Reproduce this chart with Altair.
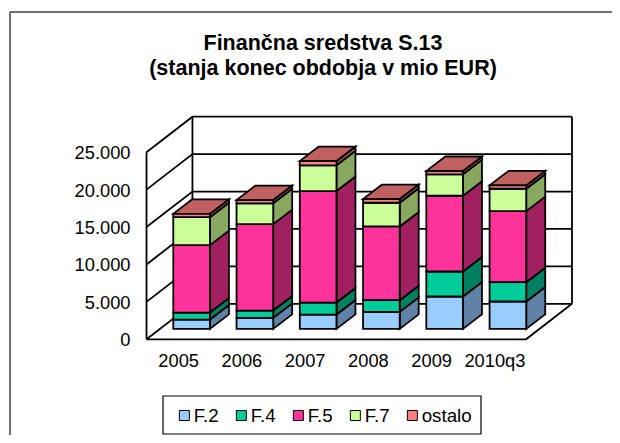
import json
import altair as alt

years = ["2005", "2006", "2007", "2008", "2009", "2010q3"]
series = ["F.2", "F.4", "F.5", "F.7", "ostalo"]
f2 = [1250, 1470, 1920, 2275, 4330, 3660]
f4 = [930, 980, 1600, 1560, 3340, 2580]
f5 = [9010, 11550, 14900, 9855, 10125, 9500]
f7 = [3740, 2770, 3430, 3170, 2855, 2990]
ostalo = [450, 445, 580, 490, 450, 450]
front_colors = ["#99CCFF", "#00CC99", "#FF3399", "#CCFF99", "#FF8080"]
side_colors = ["#6082A6", "#008060", "#A02060", "#88A860", "#A05050"]
top_color = "#C06060"
tick_values = [0, 5000, 10000, 15000, 20000, 25000]
title_lines = ["Finančna sredstva S.13", "(stanja konec obdobja v mio EUR)"]

FONT = "Liberation Sans"
PX_X = 63.33
PX_Y = 37.4 / 5000
WALL_DX = 46 / PX_X
WALL_DY = 35.5 / PX_Y
OFF_DX = 13.5 / PX_X
OFF_DY = 10.4 / PX_Y
BAR_HALF = 18.35 / PX_X
BAR_DX = 19 / PX_X
BAR_DY = 14.5 / PX_Y
XMAX = len(years) + WALL_DX
YMAX = 25000 + WALL_DY
LINE = 1.8

XS = alt.Scale(domain=[0, XMAX], nice=False, zero=False)
YS = alt.Scale(domain=[0, YMAX], nice=False, zero=False)

x_axis = alt.Axis(
    values=[i + 0.5 for i in range(len(years))],
    labelExpr=f"{json.dumps(years)}[floor(datum.value)]",
    domain=False, ticks=False, grid=False,
    labelFont=FONT, labelFontSize=18.3, labelColor="black",
    labelPadding=13.5, labelAngle=0,
)
y_axis = alt.Axis(
    values=tick_values,
    labelExpr="replace(format(datum.value, ','), ',', '.')",
    domain=False, ticks=False, grid=False,
    labelFont=FONT, labelFontSize=18.3, labelColor="black",
    labelPadding=16.5, labelOffset=1.5,
)


def X(field="x", **kw):
    return alt.X(f"{field}:Q", scale=XS, title=None, axis=x_axis, **kw)


def Y(field="y", **kw):
    return alt.Y(f"{field}:Q", scale=YS, title=None, axis=y_axis, **kw)


# ---- box walls
wall_rows = []


def wall(key, pts):
    for i, (x, y) in enumerate(pts):
        wall_rows.append({"k": key, "i": i, "x": x, "y": y})


for v in tick_values:
    wall(f"g{v}", [(0, v), (WALL_DX, v + WALL_DY), (len(years) + WALL_DX, v + WALL_DY)])
wall("left", [(0, 0), (0, 25000)])
wall("back", [(WALL_DX, WALL_DY), (WALL_DX, 25000 + WALL_DY)])
wall("right", [(len(years) + WALL_DX, WALL_DY), (len(years) + WALL_DX, 25000 + WALL_DY)])
wall("floor", [(0, 0), (len(years), 0), (len(years) + WALL_DX, WALL_DY)])

walls = alt.Chart(alt.Data(values=wall_rows)).mark_line(
    color="black", strokeWidth=LINE, clip=False
).encode(x=X(), y=Y(), detail="k:N", order="i:Q")

# ---- bars
front_rows, side_rows, top_rows = [], [], []
for i, year in enumerate(years):
    x0 = i + 0.5 + OFF_DX - BAR_HALF
    x1 = i + 0.5 + OFF_DX + BAR_HALF
    low = 0
    for name, vals, side in zip(series, [f2, f4, f5, f7, ostalo], side_colors):
        high = low + vals[i]
        front_rows.append({"s": name, "x": x0, "x2": x1, "y": low + OFF_DY, "y2": high + OFF_DY})
        key = f"{year}-{name}"
        side_rows.append({"k": key, "c": side, "x": x1, "y": low + OFF_DY, "y2": high + OFF_DY})
        side_rows.append({"k": key, "c": side, "x": x1 + BAR_DX,
                          "y": low + OFF_DY + BAR_DY, "y2": high + OFF_DY + BAR_DY})
        low = high
    top_rows.append({"k": year, "x": x0, "x2": x1, "y": low + OFF_DY})
    top_rows.append({"k": year, "x": x0 + BAR_DX, "x2": x1 + BAR_DX, "y": low + OFF_DY + BAR_DY})

sides = alt.Chart(alt.Data(values=side_rows)).mark_area(
    stroke="black", strokeWidth=LINE, clip=False, interpolate="linear"
).encode(
    x=X(),
    y=Y(stack=None),
    y2="y2:Q",
    fill=alt.Fill("c:N", scale=None),
    detail="k:N",
)

tops = alt.Chart(alt.Data(values=top_rows)).mark_area(
    orient="horizontal", fill=top_color, stroke="black", strokeWidth=LINE, clip=False
).encode(
    x=X(stack=None),
    x2="x2:Q",
    y=Y(),
    detail="k:N",
)

fronts = alt.Chart(alt.Data(values=front_rows)).mark_rect(
    stroke="black", strokeWidth=LINE, clip=False
).encode(
    x=X(),
    x2="x2:Q",
    y=Y(),
    y2="y2:Q",
    color=alt.Color(
        "s:N",
        scale=alt.Scale(domain=series, range=front_colors),
        sort=series,
        legend=alt.Legend(
            title=None,
            orient="none",
            legendX=28.5,
            legendY=289,
            direction="horizontal",
            columns=5,
            symbolType="square",
            symbolSize=100,
            symbolStrokeColor="black",
            symbolStrokeWidth=1,
            symbolOpacity=1,
            labelFont=FONT,
            labelFontSize=18.7,
            labelColor="black",
            labelOffset=0,
            columnPadding=13,
            padding=0,
        ),
    ),
)

# ---- chart frame (left and top edge), legend box and title, in pixels
one = alt.Data(values=[{"a": 1}])
frame_left = alt.Chart(one).mark_rule(color="#404040", strokeWidth=1.5).encode(
    x=alt.value(-136.5), y=alt.value(-104.7), y2=alt.value(318.3)
)
frame_top = alt.Chart(one).mark_rule(color="#404040", strokeWidth=1.5).encode(
    x=alt.value(-136.5), x2=alt.value(465.5), y=alt.value(-104.7)
)
legend_box = alt.Chart(one).mark_rect(fill="white", stroke="black", strokeWidth=1.2).encode(
    x=alt.value(16.5), x2=alt.value(334.5), y=alt.value(279.3), y2=alt.value(317.3)
)
title_marks = [
    alt.Chart(one).mark_text(
        text=line, font=FONT, fontSize=21.5, fontWeight="bold", color="black",
        align="center", baseline="alphabetic",
    ).encode(x=alt.value(176.5), y=alt.value(base))
    for line, base in zip(title_lines, [-67, -41.5])
]

chart = alt.layer(
    frame_left, frame_top, legend_box, *title_marks, walls, sides, tops, fronts
).properties(
    width=425.5,
    height=222.6,
    padding={"left": 138.5, "top": 108.7, "right": 40, "bottom": 95.7},
    autosize=alt.AutoSizeParams(type="none"),
    background="white",
).configure_view(stroke=None)

chart.save("out.html", embed_options={"renderer": "svg", "actions": False})
